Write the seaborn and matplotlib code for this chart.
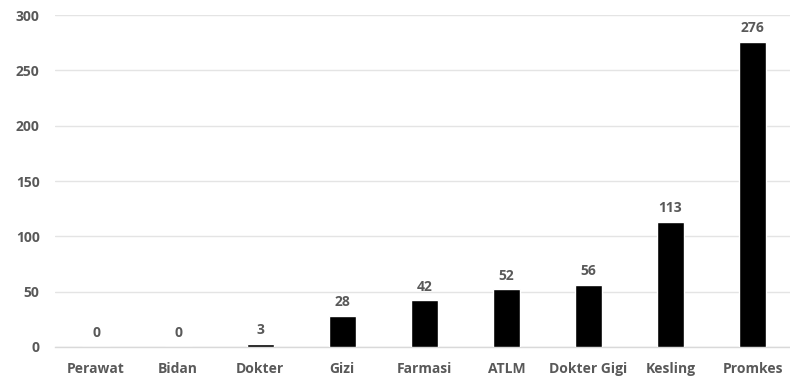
import matplotlib
matplotlib.use("Agg")
import matplotlib.pyplot as plt
import seaborn as sns
import pandas as pd

# Data
categories = ["Perawat", "Bidan", "Dokter", "Gizi", "Farmasi", "ATLM",
              "Dokter Gigi", "Kesling", "Promkes"]
values = [0, 0, 3, 28, 42, 52, 56, 113, 276]

df = pd.DataFrame({"profesi": categories, "jumlah": values})

sns.set_style("white")
plt.rcParams['font.family'] = ['Open Sans', 'DejaVu Sans']

text_color = "#595959"

fig = plt.figure(figsize=(7.9, 3.8), dpi=100)
ax = fig.add_axes([0.0696, 0.087, 0.935, 0.873])

sns.barplot(data=df, x="profesi", y="jumlah", color="black", width=0.33,
            saturation=1, ax=ax, zorder=3)

ax.set_ylim(0, 300)
ax.set_yticks(range(0, 301, 50))
ax.yaxis.grid(True, color="#e4e4e4", linewidth=1, zorder=0)
ax.set_axisbelow(True)

for side in ["top", "right", "left"]:
    ax.spines[side].set_visible(False)
ax.spines["bottom"].set_color("#d9d9d9")
ax.spines["bottom"].set_linewidth(1)

ax.set_xlabel("")
ax.set_ylabel("")
ax.tick_params(axis="both", length=0, colors=text_color, labelsize=10)
ax.tick_params(axis="x", pad=11)
ax.tick_params(axis="y", pad=11)
for lbl in ax.get_xticklabels() + ax.get_yticklabels():
    lbl.set_fontweight("bold")

for i, v in enumerate(values):
    ax.text(i, v + 6, str(v), ha="center", va="bottom", fontsize=10,
            fontweight="bold", color=text_color)

plt.savefig("out.png", dpi=100)
plt.close()
